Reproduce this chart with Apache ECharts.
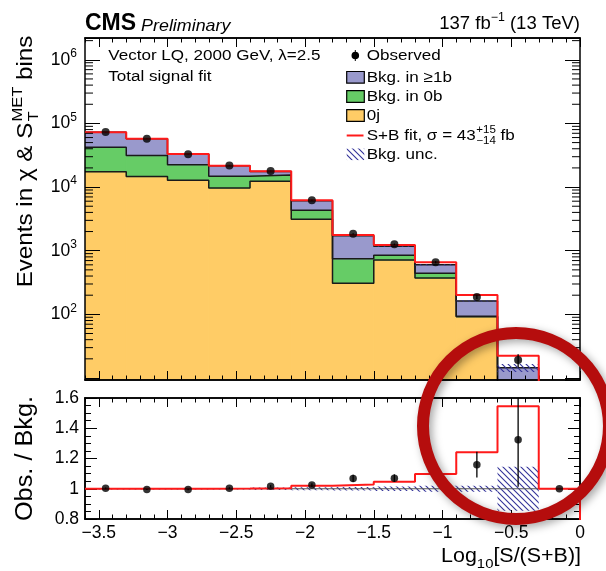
<!DOCTYPE html>
<html>
<head>
<meta charset="utf-8">
<script src="https://cdn.jsdelivr.net/npm/echarts@6.0.0/dist/echarts.min.js"></script>
<style>html,body{margin:0;padding:0;background:#fff;}#chart{width:606px;height:571px;}</style>
</head>
<body>
<div id="chart"></div>
<script>
// ---------------- data ----------------
const binEdges   = [-3.6, -3.3, -3.0, -2.7, -2.4, -2.1, -1.8, -1.5, -1.2, -0.9, -0.6, -0.3, 0];
const binCenters = [-3.45, -3.15, -2.85, -2.55, -2.25, -1.95, -1.65, -1.35, -1.05, -0.75, -0.45, -0.15];
const bkg0j    = [17460, 14600, 12800, 9680, 12300, 3130, 307, 714, 372, 91.7, 2.0, 0.5];
const bkg0b    = [24840, 16600, 9700, 5120, 3200, 1190, 439, 133, 69, 1.8, 1.0, 0.5];
const bkg1b    = [30500, 26500, 10600, 6880, 2130, 1760, 976, 329, 159, 68.5, 11.5, 2.0];
const sbFit    = [72800, 57700, 33100, 21700, 17700, 6200, 1770, 1230, 658, 201, 22.4, 3];
const observed    = [73100, 57400, 32900, 21770, 17900, 6230, 1840, 1258, 660, 188, 19.2, 3];
const observedErr = [270, 240, 180, 150, 135, 80, 45, 36, 26, 14, 4.5, 1.7];
const ratioObs    = [1.004, 0.995, 0.995, 1.004, 1.016, 1.024, 1.068, 1.070, 1.100, 1.159, 1.324, 1.000];
const ratioObsErr = [0.004, 0.004, 0.005, 0.006, 0.008, 0.013, 0.024, 0.025, 0.035, 0.085, 0.31, 0.0];
const ratioSB     = [1.000, 1.000, 1.000, 1.001, 1.004, 1.020, 1.028, 1.046, 1.097, 1.242, 1.545, 1.000];
const ratioUnc    = [0.005, 0.005, 0.005, 0.005, 0.008, 0.010, 0.012, 0.015, 0.020, 0.020, 0.145, 0.0];

// ---------------- ticks ----------------
const xMajorTicks = [-3.5, -3, -2.5, -2, -1.5, -1, -0.5, 0];
const xMinorTicks = [-3.6,-3.5,-3.4,-3.3,-3.2,-3.1,-3.0,-2.9,-2.8,-2.7,-2.6,-2.5,-2.4,-2.3,-2.2,-2.1,-2.0,-1.9,-1.8,-1.7,-1.6,-1.5,-1.4,-1.3,-1.2,-1.1,-1.0,-0.9,-0.8,-0.7,-0.6,-0.5,-0.4,-0.3,-0.2,-0.1,0];
const logMinorTicks = [20,30,40,50,60,70,80,90,200,300,400,500,600,700,800,900,2000,3000,4000,5000,6000,7000,8000,9000,
  20000,30000,40000,50000,60000,70000,80000,90000,200000,300000,400000,500000,600000,700000,800000,900000,2000000];
const ratioMajorTicks = [0.8, 1.0, 1.2, 1.4, 1.6];
const ratioMinorTicks = [0.85,0.9,0.95,1.05,1.1,1.15,1.25,1.3,1.35,1.45,1.5,1.55];
const upperRange = [9.3, 2.2e6];
const ratioRange = [0.8, 1.6];

// ---------------- styling ----------------
const FONT = "'Liberation Sans', Arial, Helvetica, sans-serif";
const C_1B = '#9999cc', C_0B = '#66cc66', C_0J = '#ffcc66', C_RED = '#ff1a1a', HATCH_COLOR = '#333399';
const SX = 1.1;

function makeHatch() {
  const c = document.createElement('canvas'); c.width = 6; c.height = 6;
  const g = c.getContext('2d');
  g.strokeStyle = HATCH_COLOR; g.lineWidth = 1.1;
  g.beginPath();
  g.moveTo(-1, -1); g.lineTo(7, 7);
  g.moveTo(-1, 5); g.lineTo(1, 7);
  g.moveTo(5, -1); g.lineTo(7, 1);
  g.stroke();
  return c;
}
const HATCH = { image: makeHatch(), repeat: 'repeat' };

const mctx = document.createElement('canvas').getContext('2d');
function tw(s, size, weight, style) {
  mctx.font = (style || 'normal') + ' ' + (weight || 'normal') + ' ' + size + 'px ' + FONT;
  return mctx.measureText(s).width;
}

// ---------------- helpers ----------------
function cum(a, b) { return a.map((v, i) => v + b[i]); }
const top0j = bkg0j.slice();
const top0b = cum(top0j, bkg0b);
const top1b = cum(top0b, bkg1b);

function rectSeries(data, fill, xi, yi, z, solid) {
  return {
    type: 'custom', xAxisIndex: xi, yAxisIndex: yi, z: z, clip: true, silent: true,
    encode: { x: [0, 1], y: [2, 3] }, data: data,
    renderItem: function (params, api) {
      const cs = params.coordSys;
      const x0 = api.value(0), x1 = api.value(1), lo = api.value(2), hi = api.value(3);
      const pL = api.coord([x0, hi]);
      const pR = api.coord([x1, hi]);
      const yb = (lo > 0) ? api.coord([x0, lo])[1] : cs.y + cs.height;
      return { type: 'rect', shape: { x: pL[0], y: pL[1], width: pR[0] - pL[0], height: yb - pL[1] },
        style: solid ? { fill: fill, stroke: fill, lineWidth: 1 } : { fill: fill, stroke: null } };
    }
  };
}
function layerData(lo, hi) {
  return hi.map((h, i) => [binEdges[i], binEdges[i + 1], lo ? lo[i] : null, h]);
}
function stepLine(vals, color, width, xi, yi, z, close) {
  const d = binEdges.map((e, i) => [e, vals[Math.min(i, vals.length - 1)]]);
  if (close !== undefined) d.push([binEdges[binEdges.length - 1], close]);
  return { type: 'line', xAxisIndex: xi, yAxisIndex: yi, step: 'end', data: d, symbol: 'none', silent: true,
    clip: true, z: z, lineStyle: { color: color, width: width } };
}
function errSeries(xs, ys, es, xi, yi, z) {
  const data = xs.map((x, i) => [x, ys[i] - es[i], ys[i] + es[i]]).filter(d => d[2] - d[1] > 0);
  return {
    type: 'custom', xAxisIndex: xi, yAxisIndex: yi, z: z, clip: true, silent: true,
    encode: { x: 0, y: [1, 2] }, data: data,
    renderItem: function (params, api) {
      const a = api.coord([api.value(0), api.value(1)]);
      const b = api.coord([api.value(0), api.value(2)]);
      return { type: 'line', shape: { x1: a[0], y1: a[1], x2: b[0], y2: b[1] }, style: { stroke: '#000', lineWidth: 1.3 } };
    }
  };
}

function xAx(grid, pos, ticks, len, labels) {
  return {
    type: 'value', gridIndex: grid, position: pos, min: binEdges[0], max: binEdges[binEdges.length - 1], z: 5,
    axisLine: { show: true, onZero: false, lineStyle: { color: '#000', width: 1.5 } },
    axisTick: { show: true, inside: true, length: len, customValues: ticks, lineStyle: { color: '#000', width: 1 } },
    axisLabel: labels ? {
      show: true, customValues: ticks, color: '#000', fontSize: 17.5, fontFamily: FONT, margin: 5,
      formatter: v => (Math.abs(v) < 1e-9 ? '0' : (v < 0 ? '\u2212' : '') + (+Math.abs(v).toFixed(2)))
    } : { show: false },
    splitLine: { show: false }, minorTick: { show: false }, axisPointer: { show: false }
  };
}
function ratioAx(pos, ticks, len, labels) {
  return {
    type: 'value', gridIndex: 1, position: pos, min: ratioRange[0], max: ratioRange[1], z: 5,
    axisLine: { show: true, onZero: false, lineStyle: { color: '#000', width: 1.5 } },
    axisTick: { show: true, inside: true, length: len, customValues: ticks, lineStyle: { color: '#000', width: 1 } },
    axisLabel: labels ? {
      show: true, customValues: ticks, color: '#000', fontSize: 17.5, fontFamily: FONT, margin: 6,
      formatter: v => String(+v.toFixed(2))
    } : { show: false },
    splitLine: { show: false }, axisPointer: { show: false }
  };
}
function logAx(pos, labels) {
  return {
    type: 'log', logBase: 10, gridIndex: 0, position: pos, min: upperRange[0], max: upperRange[1], z: 5,
    axisLine: { show: true, onZero: false, lineStyle: { color: '#000', width: 1.5 } },
    axisTick: { show: true, inside: true, length: 15, lineStyle: { color: '#000', width: 1 } },
    axisLabel: labels ? {
      show: true, color: '#000', fontFamily: FONT, fontSize: 17.5, margin: 8,
      formatter: function (v) {
        const e = Math.log10(v), r = Math.round(e);
        if (Math.abs(e - r) < 1e-6 && r >= 2) return '{b|10}{s|' + r + '}';
        return '';
      },
      rich: {
        b: { fontSize: 17.5, fontFamily: FONT, color: '#000', lineHeight: 24 },
        s: { fontSize: 12, fontFamily: FONT, color: '#000', lineHeight: 12, verticalAlign: 'top' }
      }
    } : { show: false },
    splitLine: { show: false }, axisPointer: { show: false }
  };
}

// ---------------- series ----------------
const series = [];
// upper stacked backgrounds
series.push(rectSeries(layerData(null, top0j), C_0J, 0, 0, 2, true));
series.push(rectSeries(layerData(top0j, top0b), C_0B, 0, 0, 2, true));
series.push(rectSeries(layerData(top0b, top1b), C_1B, 0, 0, 2, true));
// outlines
series.push(stepLine(top0j, '#1a1a1a', 1.5, 0, 0, 3));
series.push(stepLine(top0b, '#1a1a1a', 1.5, 0, 0, 3));
series.push(stepLine(top1b, '#1a1a1a', 1.5, 0, 0, 3));
// background uncertainty (upper)
series.push(rectSeries(top1b.map((b, i) => [binEdges[i], binEdges[i + 1], b * (1 - ratioUnc[i]), b * (1 + ratioUnc[i])])
  .filter((d, i) => ratioUnc[i] > 0), HATCH, 0, 0, 4, false));
// S+B fit
series.push(stepLine(sbFit, C_RED, 2, 0, 0, 5));
// observed
series.push(errSeries(binCenters, observed, observedErr, 0, 0, 6));
series.push({ type: 'scatter', xAxisIndex: 0, yAxisIndex: 0, z: 7, silent: true, symbol: 'circle', symbolSize: 8,
  itemStyle: { color: '#000' }, data: binCenters.map((x, i) => [x, observed[i]]) });
// log minor ticks (both sides)
series.push({
  type: 'custom', xAxisIndex: 0, yAxisIndex: 0, z: 9, silent: true, clip: false,
  encode: { x: 0, y: 1 }, data: logMinorTicks.map(v => [binEdges[0], v]),
  renderItem: function (params, api) {
    const cs = params.coordSys;
    const p = api.coord([api.value(0), api.value(1)]);
    return { type: 'group', children: [
      { type: 'line', shape: { x1: cs.x, y1: p[1], x2: cs.x + 8, y2: p[1] }, style: { stroke: '#000', lineWidth: 1 } },
      { type: 'line', shape: { x1: cs.x + cs.width - 8, y1: p[1], x2: cs.x + cs.width, y2: p[1] }, style: { stroke: '#000', lineWidth: 1 } }
    ] };
  }
});

// lower ratio panel
series.push(rectSeries(ratioUnc.map((u, i) => [binEdges[i], binEdges[i + 1], 1 - u, 1 + u]).filter((d, i) => ratioUnc[i] > 0),
  HATCH, 4, 2, 3, false));
series.push({ type: 'line', xAxisIndex: 4, yAxisIndex: 2, z: 3, silent: true, symbol: 'none',
  data: [[binEdges[0], 1], [binEdges[binEdges.length - 1], 1]], lineStyle: { color: '#555', width: 1 } });
series.push(stepLine(ratioSB, C_RED, 2, 4, 2, 5, 0));
series.push(errSeries(binCenters, ratioObs, ratioObsErr, 4, 2, 6));
series.push({ type: 'scatter', xAxisIndex: 4, yAxisIndex: 2, z: 7, silent: true, symbol: 'circle', symbolSize: 7.5,
  itemStyle: { color: '#000' }, data: binCenters.map((x, i) => [x, ratioObs[i]]) });

// ---------------- text / graphics ----------------
function T(x, y, s, size, o) {
  o = o || {};
  return { type: 'text', x: x, y: y, scaleX: (o.sx !== undefined ? o.sx : SX), z: 100, silent: true,
    style: { text: s, fontSize: size, fontFamily: FONT, fontWeight: o.weight || 'normal', fontStyle: o.style || 'normal',
      fill: '#000', align: o.align || 'left', verticalAlign: o.va || 'middle', rich: o.rich } };
}
const g = [];
// header
g.push(T(85, 24, 'CMS', 23, { weight: 'bold', sx: 1.0 }));
g.push(T(85 + tw('CMS', 23, 'bold') + 5, 26.5, 'Preliminary', 17, { style: 'italic', sx: 1.05 }));
g.push(T(580, 24.5, '{a|137 fb}{s|\u22121}{a| (13 TeV)}', 18, { align: 'right', sx: 1.03, rich: {
  a: { fontSize: 18, fontFamily: FONT, fill: '#000', lineHeight: 26 },
  s: { fontSize: 12, fontFamily: FONT, fill: '#000', lineHeight: 12, verticalAlign: 'top' } } }));
// legend
const LF = 15.5, LX = 366.7;
g.push(T(108.3, 55.3, 'Vector LQ, 2000 GeV, \u03bb=2.5', LF));
g.push(T(108.3, 77.2, 'Total signal fit', LF));
g.push({ type: 'line', z: 100, shape: { x1: 355.3, y1: 50, x2: 355.3, y2: 61 }, style: { stroke: '#000', lineWidth: 1 } });
g.push({ type: 'circle', z: 100, shape: { cx: 355.3, cy: 55.5, r: 3.8 }, style: { fill: '#000' } });
g.push(T(LX, 55.3, 'Observed', LF));
const boxes = [[C_1B, 77.3, 'Bkg. in \u22651b'], [C_0B, 96.5, 'Bkg. in 0b'], [C_0J, 115.5, '0j']];
boxes.forEach(b => {
  g.push({ type: 'rect', z: 100, shape: { x: 346.7, y: b[1] - 5.8, width: 17.6, height: 11.6 }, style: { fill: b[0], stroke: '#000', lineWidth: 1.2 } });
  g.push(T(LX, b[1], b[2], LF));
});
g.push({ type: 'line', z: 100, shape: { x1: 346.7, y1: 135.5, x2: 363.5, y2: 135.5 }, style: { stroke: C_RED, lineWidth: 2 } });
const sbTxt = 'S+B fit, \u03c3 = 43';
const wsb = tw(sbTxt, LF) * SX;
g.push(T(LX, 135.3, sbTxt, LF));
g.push(T(LX + wsb + 0.5, 130, '+15', 10.5));
g.push(T(LX + wsb + 0.5, 141, '\u221214', 10.5));
g.push(T(LX + wsb + 0.5 + Math.max(tw('+15', 10.5), tw('\u221214', 10.5)) * SX, 135.3, ' fb', LF));
g.push({ type: 'rect', z: 100, shape: { x: 346.7, y: 148.5, width: 17.6, height: 11.6 }, style: { fill: HATCH, stroke: null } });
g.push(T(LX, 155, 'Bkg. unc.', LF));

// y title upper (rotated)
(function () {
  const f = 22, fs = 15;
  const a = 'Events in \u03c7 & S', b = ' bins';
  const wa = tw(a, f), wm = tw('MET', fs), wt = tw('T', fs), wb = tw(b, f);
  const L = (wa + 1 + Math.max(wm, wt) + wb) * SX;
  const mk = (x, y, s, size) => ({ type: 'text', x: x, y: y, z: 100, silent: true,
    style: { text: s, fontSize: size, fontFamily: FONT, fill: '#000', align: 'left', verticalAlign: 'middle' } });
  g.push({ type: 'group', x: 26, y: 161.5 + L / 2, rotation: Math.PI / 2, scaleX: SX, z: 100, children: [
    mk(0, 0, a, f), mk(wa + 1, -8, 'MET', fs), mk(wa + 1, 7.5, 'T', fs), mk(wa + 1 + Math.max(wm, wt), 0, b, f)
  ] });
})();
// y title lower
(function () {
  const f = 23, s = 'Obs. / Bkg.';
  const L = tw(s, f) * SX;
  g.push({ type: 'group', x: 26, y: 458.5 + L / 2, rotation: Math.PI / 2, scaleX: SX, z: 100, children: [
    { type: 'text', x: 0, y: 0, z: 100, silent: true, style: { text: s, fontSize: f, fontFamily: FONT, fill: '#000', align: 'left', verticalAlign: 'middle' } }
  ] });
})();
// x title
g.push(T(581, 557, '{a|Log}{s|10}{a|[S/(S+B)]}', 19.5, { align: 'right', rich: {
  a: { fontSize: 19.5, fontFamily: FONT, fill: '#000', lineHeight: 28 },
  s: { fontSize: 13.5, fontFamily: FONT, fill: '#000', lineHeight: 14, verticalAlign: 'bottom' } } }));
// highlight ring
g.push({ type: 'circle', z: 200, silent: true, shape: { cx: 516, cy: 426, r: 93 },
  style: { fill: 'none', stroke: '#b50d0d', lineWidth: 12, shadowBlur: 8, shadowColor: 'rgba(0,0,0,0.35)', shadowOffsetX: 3, shadowOffsetY: 3 } });

// ---------------- chart ----------------
const chart = echarts.init(document.getElementById('chart'), null, { renderer: 'canvas', width: 606, height: 571 });
chart.setOption({
  animation: false,
  backgroundColor: '#fff',
  grid: [
    { left: 85, top: 38, width: 495, height: 342, show: false, outerBoundsMode: 'none', containLabel: false },
    { left: 85, top: 398, width: 495, height: 121, show: false, outerBoundsMode: 'none', containLabel: false }
  ],
  xAxis: [
    xAx(0, 'bottom', xMajorTicks, 9, false),
    xAx(0, 'bottom', xMinorTicks, 4.5, false),
    xAx(0, 'top', xMajorTicks, 9, false),
    xAx(0, 'top', xMinorTicks, 4.5, false),
    xAx(1, 'bottom', xMajorTicks, 9, true),
    xAx(1, 'bottom', xMinorTicks, 4.5, false),
    xAx(1, 'top', xMajorTicks, 9, false),
    xAx(1, 'top', xMinorTicks, 4.5, false)
  ],
  yAxis: [
    logAx('left', true),
    logAx('right', false),
    ratioAx('left', ratioMajorTicks, 12, true),
    ratioAx('left', ratioMinorTicks, 6, false),
    ratioAx('right', ratioMajorTicks, 12, false),
    ratioAx('right', ratioMinorTicks, 6, false)
  ],
  series: series,
  graphic: { elements: g }
});
</script>
</body>
</html>
